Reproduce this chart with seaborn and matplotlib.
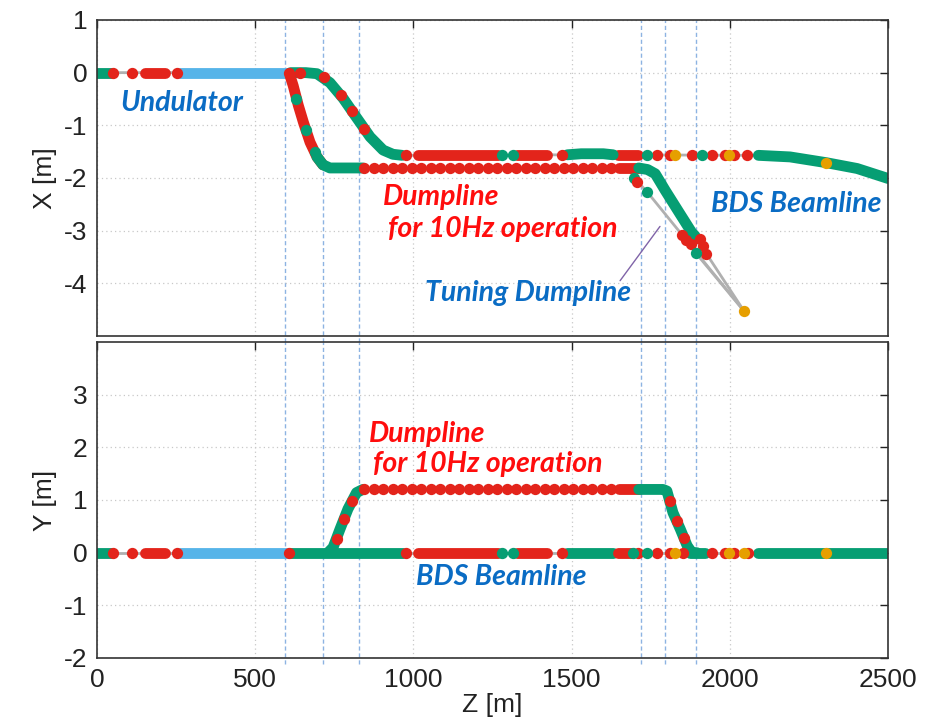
import seaborn as sns
import matplotlib.pyplot as plt

# ---- values (Z, X, Y in metres) ----
# dashed vertical markers
marker_z = [594, 714, 828, 1719, 1795, 1893]

# common upstream section (same in both views, at 0)
start_green_band = [0, 47]
start_red_band = [152, 215]
undulator_band = [262, 600]
start_red_dots = [52, 110, 252, 608]

# --- X view: BDS beamline ---
bds_path_z = [0, 610, 660, 695, 736, 778, 822, 863, 904, 935, 964, 1500, 1560, 1631,
              2090, 2190, 2305, 2402, 2500]
bds_path_x = [0, 0, 0, -0.02, -0.19, -0.49, -0.87, -1.22, -1.47, -1.55, -1.57, -1.56, -1.54,
              -1.56, -1.57, -1.60, -1.71, -1.82, -2.01]
bds_s_z = [612, 660, 695, 736, 778, 822, 863, 904, 935, 964]
bds_s_x = [0, 0, -0.02, -0.19, -0.49, -0.87, -1.22, -1.47, -1.55, -1.57]
bds_s_red_z = [640, 716, 770, 805, 845]
bds_s_red_x = [0, -0.09, -0.43, -0.72, -1.07]
bds_flat_x = -1.57
bds_red_bands = [(1015, 1267), (1327, 1422), (1647, 1710)]
bds_red_dots_z = [975, 1470, 1770, 1810, 1880, 1944, 1985, 2012, 2055]
bds_green_dots_z = [1280, 1315, 1738, 1912]
bds_orange_z = [1826, 1998]
bds_hump_z = [1486, 1530, 1600, 1631]
bds_hump_x = [-1.56, -1.54, -1.54, -1.56]
bds_tail_z = [2090, 2190, 2305, 2402, 2500]
bds_tail_x = [-1.57, -1.60, -1.71, -1.82, -2.01]
bds_tail_orange = (2305, -1.71)

# --- X view: 10 Hz dumpline ---
dump_drop_z = [600, 610, 620, 636, 652, 673, 695, 714, 736, 841]
dump_drop_x = [0, -0.06, -0.25, -0.62, -0.94, -1.32, -1.60, -1.75, -1.81, -1.81]
dump_drop_green_z = [630, 660, 688]
dump_drop_green_x = [-0.50, -1.08, -1.50]
dump_flat_z = [845, 875, 905, 935, 965, 995, 1025, 1055, 1085, 1115, 1145, 1175, 1205,
               1235, 1265, 1295, 1325, 1355, 1385, 1415, 1445, 1475, 1505, 1535, 1565,
               1595, 1625]
dump_flat_x = -1.81
dump_flat_red_band = [1650, 1712]
dump_bend_z = [1712, 1740, 1764, 1795, 1840, 1880, 1890]
dump_bend_x = [-1.81, -1.84, -1.92, -2.23, -2.66, -3.04, -3.10]
dump_end_red_z = [1850, 1862, 1876, 1906, 1916, 1926]
dump_end_red_x = [-3.08, -3.17, -3.26, -3.15, -3.30, -3.44]
dump_end_green = (1893, -3.43)

# --- X view: tuning dumpline ---
tuning_path_z = [1680, 1697, 1738, 2045]
tuning_path_x = [-1.81, -2.00, -2.26, -4.53]
tuning_green_z = [1697, 1738]
tuning_green_x = [-2.00, -2.26]
tuning_red = (1707, -2.07)
dump_point = (2045, -4.53)

# --- Y view ---
y0_green_bands = [(610, 967), (1486, 1631), (1874, 1922), (2090, 2500)]
y0_red_bands = [(1015, 1267), (1327, 1422), (1647, 1690)]
y0_red_dots = [975, 1470, 1710, 1770, 1810, 1852, 1944, 1985, 2012, 2058]
y0_green_dots = [1280, 1315, 1694, 1738]
y0_orange = [1826, 1998, 2045, 2305]
dump_rise_z = [730, 746, 768, 793, 820, 840]
dump_rise_y = [0, 0.10, 0.45, 0.83, 1.14, 1.20]
dump_rise_red_z = [757, 780, 805]
dump_rise_red_y = [0.25, 0.63, 0.98]
dump_level_y = 1.2
dump_fall_z = [1712, 1789, 1801, 1820, 1843, 1865, 1880, 1895]
dump_fall_y = [1.2, 1.2, 1.17, 0.76, 0.45, 0.13, 0.0, 0.0]
dump_fall_red_z = [1810, 1832, 1855]
dump_fall_red_y = [0.98, 0.60, 0.28]

# ---- styling ----
GREEN = "#069e73"
RED = "#e3241b"
BLUE = "#56b4e9"
ORANGE = "#e69f00"
GRAY = "#b0b0b0"
TXT_BLUE = "#0a6cc4"
TXT_RED = "#ff0d0d"
LW = 7.8
S = 66

sns.set_theme(style="white")
plt.rcParams["font.family"] = ["Liberation Sans", "DejaVu Sans"]
plt.rcParams["axes.unicode_minus"] = False

fig = plt.figure(figsize=(9.44, 7.21), dpi=100)
ax1 = fig.add_axes([0.1028, 0.534, 0.838, 0.4383])
ax2 = fig.add_axes([0.1028, 0.0874, 0.838, 0.4383])


def path(ax, z, v, color=GRAY, lw=2.0, z_order=1):
    sns.lineplot(x=z, y=v, ax=ax, color=color, lw=lw, sort=False, estimator=None,
                 solid_capstyle="round", zorder=z_order)


def band(ax, z, v, color):
    path(ax, z, v, color=color, lw=LW, z_order=2)


def dots(ax, z, v, color, z_order=3):
    sns.scatterplot(x=z, y=v, ax=ax, color=color, s=S, linewidth=0, zorder=z_order)


def upstream(ax):
    band(ax, start_green_band, [0, 0], GREEN)
    band(ax, start_red_band, [0, 0], RED)
    band(ax, undulator_band, [0, 0], BLUE)
    dots(ax, start_red_dots, [0] * len(start_red_dots), RED)


# ---------- top: X ----------
path(ax1, bds_path_z, bds_path_x)
path(ax1, dump_drop_z + dump_flat_z + dump_bend_z,
     dump_drop_x + [dump_flat_x] * len(dump_flat_z) + dump_bend_x)
path(ax1, tuning_path_z, tuning_path_x)
path(ax1, [dump_end_green[0], dump_point[0]], [dump_end_green[1], dump_point[1]])
path(ax1, [dump_end_red_z[-1], dump_point[0]], [dump_end_red_x[-1], dump_point[1]])
upstream(ax1)

band(ax1, bds_s_z, bds_s_x, GREEN)
dots(ax1, bds_s_red_z, bds_s_red_x, RED)
for a, b in bds_red_bands:
    band(ax1, [a, b], [bds_flat_x, bds_flat_x], RED)
band(ax1, bds_hump_z, bds_hump_x, GREEN)
band(ax1, bds_tail_z, bds_tail_x, GREEN)
dots(ax1, bds_red_dots_z, [bds_flat_x] * len(bds_red_dots_z), RED)
dots(ax1, bds_green_dots_z, [bds_flat_x] * len(bds_green_dots_z), GREEN)
dots(ax1, bds_orange_z, [bds_flat_x] * len(bds_orange_z), ORANGE, 4)
dots(ax1, [bds_tail_orange[0]], [bds_tail_orange[1]], ORANGE, 4)

band(ax1, dump_drop_z[1:8], dump_drop_x[1:8], RED)
band(ax1, dump_drop_z[6:], dump_drop_x[6:], GREEN)
dots(ax1, dump_drop_green_z, dump_drop_green_x, GREEN)
dots(ax1, dump_flat_z, [dump_flat_x] * len(dump_flat_z), RED)
band(ax1, dump_flat_red_band, [dump_flat_x, dump_flat_x], RED)
band(ax1, dump_bend_z, dump_bend_x, GREEN)
dots(ax1, dump_end_red_z, dump_end_red_x, RED)
dots(ax1, [dump_end_green[0]], [dump_end_green[1]], GREEN)
dots(ax1, tuning_green_z, tuning_green_x, GREEN)
dots(ax1, [tuning_red[0]], [tuning_red[1]], RED)
dots(ax1, [dump_point[0]], [dump_point[1]], ORANGE, 4)

# ---------- bottom: Y ----------
path(ax2, [0, 2500], [0, 0])
path(ax2, dump_rise_z + dump_fall_z, dump_rise_y + dump_fall_y)
upstream(ax2)
for a, b in y0_green_bands:
    band(ax2, [a, b], [0, 0], GREEN)
for a, b in y0_red_bands:
    band(ax2, [a, b], [0, 0], RED)
dots(ax2, y0_red_dots, [0] * len(y0_red_dots), RED)
dots(ax2, y0_green_dots, [0] * len(y0_green_dots), GREEN)
dots(ax2, y0_orange, [0] * len(y0_orange), ORANGE, 4)
band(ax2, dump_rise_z, dump_rise_y, GREEN)
dots(ax2, dump_rise_red_z, dump_rise_red_y, RED)
dots(ax2, dump_flat_z, [dump_level_y] * len(dump_flat_z), RED)
band(ax2, dump_flat_red_band, [dump_level_y, dump_level_y], RED)
band(ax2, dump_fall_z, dump_fall_y, GREEN)
dots(ax2, dump_fall_red_z, dump_fall_red_y, RED)

# ---------- axes ----------
for ax in (ax1, ax2):
    ax.set_xlim(0, 2500)
    ax.set_xticks([0, 500, 1000, 1500, 2000, 2500])
    ax.grid(True, color="#c8c8c8", ls=(0, (1, 2.5)), lw=0.9)
    ax.set_axisbelow(True)
    ax.tick_params(direction="in", length=6, width=1, top=True, right=True,
                   labelsize=19, colors="#222222", pad=7)
    for sp in ax.spines.values():
        sp.set_color("#333333")
        sp.set_linewidth(1.2)
    for z in marker_z:
        ax.axvline(z, ymin=-0.02, ymax=1, color="#8db3e2", ls=(0, (3, 2)), lw=1.0,
                   clip_on=False, zorder=0.5)

ax1.set_ylim(-5, 1)
ax1.set_yticks([1, 0, -1, -2, -3, -4])
ax1.tick_params(labelbottom=False)
ax1.set_xlabel("")
ax1.set_ylabel("X [m]", fontsize=19, color="#222222", labelpad=5)

ax2.set_ylim(-2, 4)
ax2.set_yticks([-2, -1, 0, 1, 2, 3])
ax2.set_xlabel("Z [m]", fontsize=19, color="#222222", labelpad=1)
ax2.set_ylabel("Y [m]", fontsize=19, color="#222222", labelpad=5)

# ---------- annotations ----------
lab = dict(fontfamily=["Lato", "DejaVu Sans"], fontweight="bold", fontstyle="italic",
           fontsize=20.5, va="center")
ax1.text(73, -0.57, "Undulator", color=TXT_BLUE, ha="left", **lab)
ax1.text(904, -2.37, "Dumpline", color=TXT_RED, ha="left", **lab)
ax1.text(920, -2.96, "for 10Hz operation", color=TXT_RED, ha="left", **lab)
ax1.text(2478, -2.49, "BDS Beamline", color=TXT_BLUE, ha="right", **lab)
ax1.text(1037, -4.19, "Tuning Dumpline", color=TXT_BLUE, ha="left", **lab)
ax1.plot([1653, 1779], [-3.95, -2.92], color="#8064a8", lw=1.0, zorder=1)

ax2.text(860, 2.26, "Dumpline", color=TXT_RED, ha="left", **lab)
ax2.text(872, 1.69, "for 10Hz operation", color=TXT_RED, ha="left", **lab)
ax2.text(1008, -0.47, "BDS Beamline", color=TXT_BLUE, ha="left", **lab)

fig.savefig("out.png", dpi=100)
